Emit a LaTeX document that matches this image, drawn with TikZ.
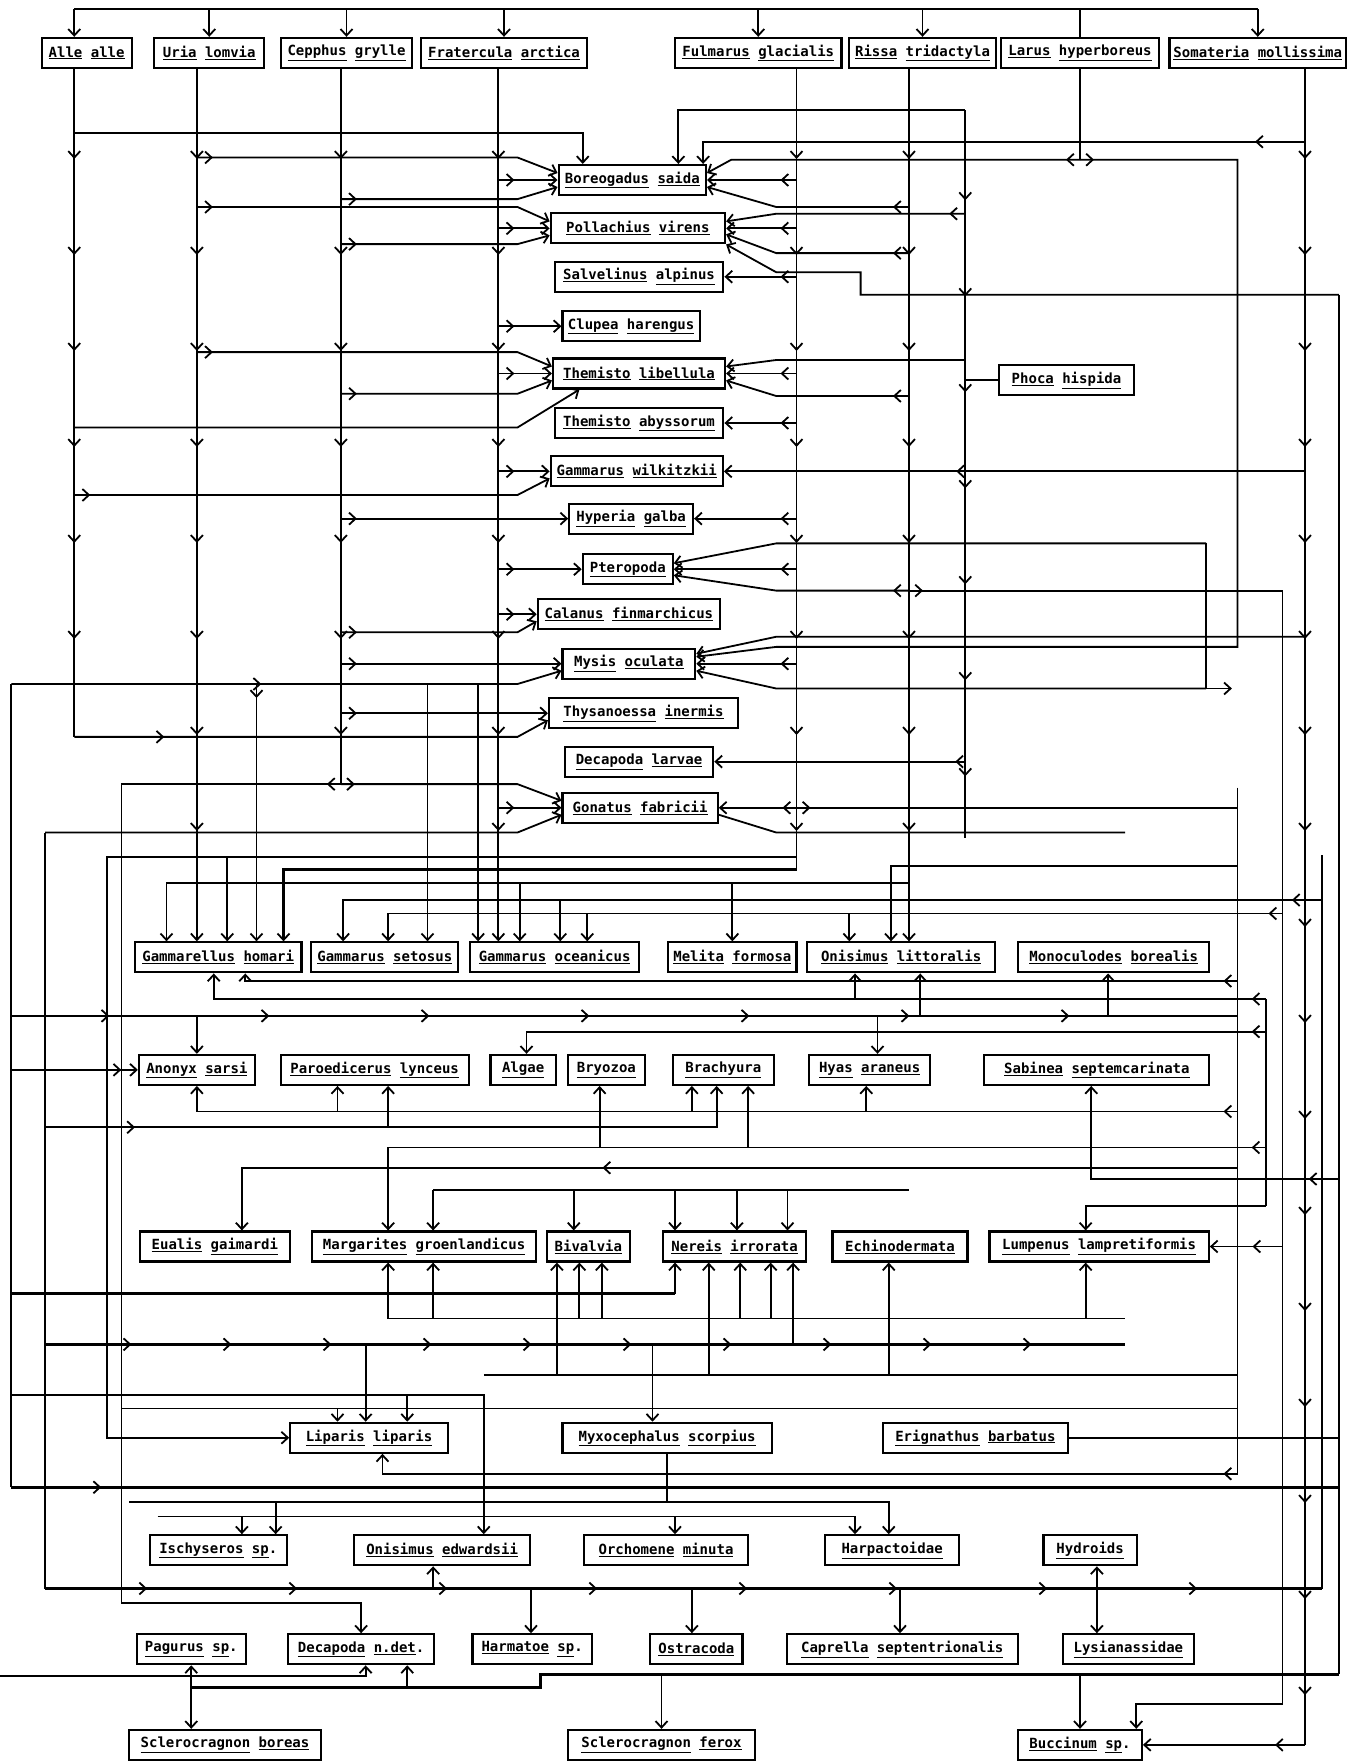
\documentclass[tikz,border=0pt]{standalone}
\usepackage{fontspec}
\newfontfamily\spfont{DejaVu Sans Mono}
\usetikzlibrary{arrows.meta,decorations.markings}
\newcommand{\ud}[1]{\underline{#1}}
\newcommand{\taxon}[5]{\node[sp,minimum width={#4*1.125pt}] (#1) at (#2,#3) {#5};}
\tikzset{
  >={Straight Barb[length=6.5pt,width=12pt,line width=1.8pt]},
  sp/.style={draw,line width=2.1pt,minimum height=30pt,inner sep=2pt,fill=white,
    font={\spfont\bfseries\fontsize{14pt}{16pt}\selectfont}},
  ln/.style={line width=1.8pt},
  hv/.style={line width=3pt},
  tipat/.style={postaction={decorate,decoration={markings,
    mark=at position #1 with {\arrow{>}}}}},
  br/.style={ln,->,tipat=16pt},
  trunk/.style={ln,postaction={decorate,decoration={markings,
    mark=between positions 90pt and -20pt step 96pt with {\arrow{>}}}}},
  ticks/.style={postaction={decorate,decoration={markings,
    mark=between positions 0.08 and 0.95 step #1 with {\arrow{>}}}}}
}
\begin{document}
\begin{tikzpicture}[x=1.125pt,y=-1.125pt]
\fill[white] (0,0) rectangle (1207,1568);
\useasboundingbox (0,0) rectangle (1207,1568);
\coordinate (xA) at (66,0);
\coordinate (xU) at (175,0);
\coordinate (xC) at (303,0);
\coordinate (xF) at (443,0);
\coordinate (xFu) at (708,0);
\coordinate (xR) at (808,0);
\coordinate (xV) at (858,0);
\coordinate (xS) at (1160,0);
\coordinate (m1) at (10,0);
\coordinate (m2) at (40,0);
\coordinate (m3) at (95,0);
\coordinate (m4) at (108,0);
\coordinate (r1) at (1072,0);
\coordinate (r2) at (1100,0);
\coordinate (r3) at (1125,0);
\coordinate (r4) at (1140,0);
\coordinate (r5) at (1175,0);
\coordinate (r6) at (1190,0);
% seabirds
\taxon{alle}{77}{47}{80}{\ud{Alle} \ud{alle}}
\taxon{uria}{186}{47}{98}{\ud{Uria} \ud{lomvia}}
\taxon{cepp}{308}{47}{117}{\ud{Cepphus} \ud{grylle}}
\taxon{frat}{448}{47}{147}{\ud{Fratercula} \ud{arctica}}
\taxon{fulm}{674}{47}{148}{\ud{Fulmarus} \ud{glacialis}}
\taxon{riss}{820}{47}{130}{\ud{Rissa} \ud{tridactyla}}
\taxon{laru}{960}{47}{140}{\ud{Larus} \ud{hyperboreus}}
\taxon{soma}{1118}{47}{157}{\ud{Somateria} \ud{mollissima}}
% pelagic column
\taxon{bore}{562}{160}{131}{\ud{Boreogadus} \ud{saida}}
\taxon{poll}{567}{203}{155}{\ud{Pollachius} \ud{virens}}
\taxon{salv}{568}{246}{150}{\ud{Salvelinus} \ud{alpinus}}
\taxon{clup}{561}{290}{122}{\ud{Clupea} \ud{harengus}}
\taxon{tlib}{568}{332}{153}{\ud{Themisto} \ud{libellula}}
\taxon{taby}{568}{376}{150}{\ud{Themisto} \ud{abyssorum}}
\taxon{gwil}{566}{419}{153}{\ud{Gammarus} \ud{wilkitzkii}}
\taxon{hyga}{561}{461}{110}{\ud{Hyperia} \ud{galba}}
\taxon{pter}{558}{506}{80}{\ud{Pteropoda}}
\taxon{cala}{559}{546}{162}{\ud{Calanus} \ud{finmarchicus}}
\taxon{mysi}{559}{590}{118}{\ud{Mysis} \ud{oculata}}
\taxon{thys}{572}{634}{168}{\ud{Thysanoessa} \ud{inermis}}
\taxon{dlar}{568}{677}{132}{\ud{Decapoda} \ud{larvae}}
\taxon{gona}{569}{718}{138}{\ud{Gonatus} \ud{fabricii}}
\taxon{phoc}{948}{338}{120}{\ud{Phoca} \ud{hispida}}
% benthic rows
\taxon{gham}{194}{851}{148}{\ud{Gammarellus} \ud{homari}}
\taxon{gset}{342}{851}{131}{\ud{Gammarus} \ud{setosus}}
\taxon{goce}{493}{851}{150}{\ud{Gammarus} \ud{oceanicus}}
\taxon{melf}{651}{851}{114}{\ud{Melita} \ud{formosa}}
\taxon{onli}{801}{851}{167}{\ud{Onisimus} \ud{littoralis}}
\taxon{monb}{990}{851}{170}{\ud{Monoculodes} \ud{borealis}}
\taxon{anon}{175}{951}{103}{\ud{Anonyx} \ud{sarsi}}
\taxon{paro}{333}{951}{167}{\ud{Paroedicerus} \ud{lynceus}}
\taxon{alga}{465}{951}{58}{\ud{Algae}}
\taxon{bryo}{539}{951}{69}{\ud{Bryozoa}}
\taxon{brac}{643}{951}{90}{\ud{Brachyura}}
\taxon{hyas}{773}{951}{108}{\ud{Hyas} \ud{araneus}}
\taxon{sabi}{975}{951}{200}{\ud{Sabinea} \ud{septemcarinata}}
\taxon{euag}{191}{1108}{133}{\ud{Eualis} \ud{gaimardi}}
\taxon{marg}{377}{1108}{199}{\ud{Margarites} \ud{groenlandicus}}
\taxon{biva}{523}{1108}{74}{\ud{Bivalvia}}
\taxon{nere}{653}{1108}{127}{\ud{Nereis} \ud{irrorata}}
\taxon{echi}{800}{1108}{120}{\ud{Echinodermata}}
\taxon{lump}{977}{1108}{195}{\ud{Lumpenus} \ud{lampretiformis}}
\taxon{lipa}{328}{1278}{140}{\ud{Liparis} \ud{liparis}}
\taxon{myxo}{593}{1278}{186}{\ud{Myxocephalus} \ud{scorpius}}
\taxon{erig}{867}{1278}{165}{\ud{Erignathus} \ud{barbatus}}
\taxon{isch}{194}{1378}{122}{\ud{Ischyseros} \ud{sp}.}
\taxon{oned}{393}{1378}{157}{\ud{Onisimus} \ud{edwardsii}}
\taxon{orch}{592}{1378}{146}{\ud{Orchomene} \ud{minuta}}
\taxon{harp}{793}{1378}{119}{\ud{Harpactoidae}}
\taxon{hydr}{969}{1378}{83}{\ud{Hydroids}}
\taxon{pagu}{170}{1466}{97}{\ud{Pagurus} \ud{sp}.}
\taxon{decn}{321}{1466}{130}{\ud{Decapoda} \ud{n.det}.}
\taxon{harm}{473}{1466}{106}{\ud{Harmatoe} \ud{sp}.}
\taxon{ostr}{619}{1466}{82}{\ud{Ostracoda}}
\taxon{capr}{802}{1466}{205}{\ud{Caprella} \ud{septentrionalis}}
\taxon{lysi}{1003}{1466}{117}{\ud{Lysianassidae}}
\taxon{sbor}{200}{1551}{170}{\ud{Sclerocragnon} \ud{boreas}}
\taxon{sfer}{588}{1551}{167}{\ud{Sclerocragnon} \ud{ferox}}
\taxon{bucc}{960}{1551}{110}{\ud{Buccinum} \ud{sp}.}
% birds and their trunks
\draw[ln] (xA |- 0,8) -- (soma.north |- 0,8);
\draw[ln,->] (xA |- 0,8) -- (xA |- alle.north);
\foreach \bird in {uria,cepp,frat,fulm,riss,soma}
  \draw[ln,->] (\bird.north |- 0,8) -- (\bird.north);
\draw[ln] (laru.north |- 0,8) -- (laru.north);
\draw[trunk] (xA |- alle.south) -- (xA |- 0,655);
\draw[ln,->,tipat=90pt] (xA |- 0,655) -- (460,655) -- ([yshift=-7pt]thys.west);
\draw[trunk,->] (xU |- uria.south) -- (xU |- gham.north);
\draw[trunk] (xC |- cepp.south) -- (xC |- 0,697);
\draw[trunk,->] (xF |- frat.south) -- (xF |- goce.north);
\draw[trunk] (xFu |- fulm.south) -- (xFu |- 0,773);
\draw[trunk,->] (xR |- riss.south) -- (xR |- onli.north);
\draw[trunk] (xV |- 0,98) -- (xV |- 0,745);
\draw[trunk] (xS |- soma.south) -- (xS |- bucc.east);
\draw[ln,->,tipat=30pt] (xS |- bucc.east) -- (bucc.east);
\draw[ln] (laru.south) -- (laru.south |- 0,142);
\draw[ln,->,tipat=14pt] (laru.south |- 0,142) -- (650,142) -- ([yshift=7pt]bore.east);
\draw[ln,->,tipat=14pt] (laru.south |- 0,142) -- (r2 |- 0,142) -- (r2 |- 0,575) -- (690,575) -- ([yshift=7pt]mysi.east);
% column, left inputs
\draw[ln,->] (xA |- 0,118) -- (518,118) -- (518,0 |- bore.north);
\draw[br] (xU |- 0,140) -- (460,140) -- ([yshift=7pt]bore.west);
\draw[br] (xF |- bore.west) -- (bore.west);
\draw[br] (xC |- 0,177) -- (460,177) -- ([yshift=-7pt]bore.west);
\draw[br] (xU |- 0,184) -- (460,184) -- ([yshift=7pt]poll.west);
\draw[br] (xF |- poll.west) -- (poll.west);
\draw[br] (xC |- 0,217) -- (460,217) -- ([yshift=-7pt]poll.west);
\draw[br] (xF |- clup.west) -- (clup.west);
\draw[br] (xU |- 0,313) -- (460,313) -- ([yshift=7pt]tlib.west);
\draw[br] (xF |- tlib.west) -- (tlib.west);
\draw[br] (xC |- 0,350) -- (460,350) -- ([yshift=-7pt]tlib.west);
\draw[ln,->] (xA |- 0,380) -- (460,380) -- (515,0 |- tlib.south);
\draw[br] (xF |- gwil.west) -- (gwil.west);
\draw[br] (xA |- 0,440) -- (460,440) -- ([yshift=-7pt]gwil.west);
\draw[br] (xC |- hyga.west) -- (hyga.west);
\draw[br] (xF |- pter.west) -- (pter.west);
\draw[br] (xF |- cala.west) -- (cala.west);
\draw[br] (xC |- 0,562) -- (460,562) -- ([yshift=-7pt]cala.west);
\draw[br] (xC |- mysi.west) -- (mysi.west);
\draw[ln,->,tipat=250pt] (m1 |- 0,608) -- (460,608) -- ([yshift=-7pt]mysi.west);
\draw[br] (xC |- thys.west) -- (thys.west);
\draw[ln,->,tipat=14pt] (xC |- 0,697) -- (460,697) -- ([yshift=7pt]gona.west);
\draw[ln,->,tipat=14pt] (xC |- 0,697) -- (m4 |- 0,697) -- (m4 |- 0,1425) -- (decn.north |- 0,1425) -- (decn.north);
\draw[br] (xF |- gona.west) -- (gona.west);
\draw[ln,->] (m2 |- 0,740) -- (460,740) -- ([yshift=-7pt]gona.west);
% column, right inputs
\draw[ln,->] (xV |- 0,98) -- (603,98) -- (603,0 |- bore.north);
\draw[ln,->,tipat=0.08] (xS |- 0,126) -- (625,126) -- (625,0 |- bore.north);
\draw[br] (xFu |- bore.east) -- (bore.east);
\draw[br] (xR |- 0,184) -- (690,184) -- ([yshift=-7pt]bore.east);
\draw[br] (xFu |- poll.east) -- (poll.east);
\draw[br] (xV |- 0,190) -- (690,190) -- ([yshift=7pt]poll.east);
\draw[br] (xR |- 0,225) -- (690,225) -- ([yshift=-6pt]poll.east);
\draw[ln,->] (r6 |- 0,262) -- (765,262) -- (765,242) -- (690,242) -- (poll.south east);
\draw[br] (xFu |- salv.east) -- (salv.east);
\draw[br] (xFu |- tlib.east) -- (tlib.east);
\draw[ln,->] (xV |- 0,320) -- (690,320) -- ([yshift=7pt]tlib.east);
\draw[br] (xR |- 0,352) -- (690,352) -- ([yshift=-7pt]tlib.east);
\draw[ln] (xV |- phoc.west) -- (phoc.west);
\draw[br] (xFu |- taby.east) -- (taby.east);
\draw[ln,->,tipat=0.6] (xS |- gwil.east) -- (gwil.east);
\draw[br] (xFu |- hyga.east) -- (hyga.east);
\draw[br] (xFu |- pter.east) -- (pter.east);
\draw[ln,->] (r1 |- 0,483) -- (690,483) -- ([yshift=6pt]pter.east);
\draw[ln] (r1 |- 0,483) -- (r1 |- 0,612);
\draw[br] (xR |- 0,525) -- (690,525) -- ([yshift=-6pt]pter.east);
\draw[ln,->,tipat=14pt] (xR |- 0,525) -- (r4 |- 0,525) -- (r4 |- 0,1515) -- (1010,1515) -- (1010,0 |- bucc.north);
\draw[br] (xFu |- mysi.east) -- (mysi.east);
\draw[ln,->] (xS |- 0,566) -- (690,566) -- ([yshift=10pt]mysi.east);
\draw[ln,->] (r1 |- 0,612) -- (690,612) -- ([yshift=-7pt]mysi.east);
\draw[ln,->] (r1 |- 0,612) -- (1095,612);
\draw[ln,->,tipat=10pt] (xV |- dlar.east) -- (dlar.east);
\draw[ln,->,tipat=14pt] (xFu |- gona.east) -- (gona.east);
\draw[ln,tipat=14pt] (xFu |- gona.east) -- (r2 |- gona.east);
\draw[ln] ([yshift=-7pt]gona.east) -- (690,740) -- (1000,740);
% feet of the column
\draw[hv,->] (xFu |- 0,773) -- (252,773) -- (252,0 |- gham.north);
\draw[ln,->] (xFu |- 0,762) -- (m3 |- 0,762) -- (m3 |- lipa.west) -- (lipa.west);
\draw[ln,->,tipat=14pt] (228,608) -- (228,0 |- gham.north);
\draw[ln,->] (380,608) -- (380,0 |- gset.north);
\draw[ln,->] (425,608) -- (425,0 |- goce.north);
\draw[ln,->] (xR |- 0,785) -- (148,785) -- (148,0 |- gham.north);
\draw[ln,->] (462,785) -- (462,0 |- goce.north);
\draw[ln,->] (melf.north |- 0,785) -- (melf.north);
\draw[ln,->] (202,762) -- (202,0 |- gham.north);
\draw[ln,->,tipat=30pt] (r5 |- 0,800) -- (305,800) -- (305,0 |- gset.north);
\draw[ln,->] (498,800) -- (498,0 |- goce.north);
\draw[ln,->,tipat=14pt] (r4 |- 0,812) -- (345,812) -- (345,0 |- gset.north);
\draw[ln,->] (522,812) -- (522,0 |- goce.north);
\draw[ln,->] (755,812) -- (755,0 |- onli.north);
\draw[ln,->] (r2 |- 0,770) -- (792,770) -- (792,0 |- onli.north);
% between the first benthic rows
\draw[ln,->,tipat=14pt] (r2 |- 0,872) -- (218,872) -- (218,0 |- gham.south);
\draw[ln,->,tipat=14pt] (r3 |- 0,888) -- (190,888) -- (190,0 |- gham.south);
\draw[ln,->] (760,888) -- (760,0 |- onli.south);
\draw[ln,ticks=160pt] (m1 |- 0,903) -- (r2 |- 0,903);
\draw[ln,->] (175,903) -- (175,0 |- anon.north);
\draw[ln,->] (818,903) -- (818,0 |- onli.south);
\draw[ln,->] (985,903) -- (985,0 |- monb.south);
\draw[ln,->] (780,903) -- (780,0 |- hyas.north);
\draw[ln,->,tipat=14pt] (r3 |- 0,917) -- (468,917) -- (468,0 |- alga.north);
\draw[ln,->,tipat=110pt] (m1 |- anon.west) -- (anon.west);
\draw[ln,->,tipat=14pt] (r2 |- 0,988) -- (175,988) -- (175,0 |- anon.south);
\draw[ln,->] (300,988) -- (300,0 |- paro.south);
\draw[ln,->] (615,988) -- (615,0 |- brac.south);
\draw[ln,->] (770,988) -- (770,0 |- hyas.south);
\draw[ln,->,tipat=90pt] (m2 |- 0,1002) -- (637,1002) -- (637,0 |- brac.south);
\draw[ln,->] (345,1002) -- (345,0 |- paro.south);
\draw[ln,->,tipat=14pt] (r3 |- 0,1020) -- (345,1020) -- (345,0 |- marg.north);
\draw[ln,->] (533,1020) -- (533,0 |- bryo.south);
\draw[ln,->] (665,1020) -- (665,0 |- brac.south);
\draw[ln,->,tipat=30pt] (r6 |- 0,1048) -- (970,1048) -- (970,0 |- sabi.south);
\draw[ln,->,tipat=0.6] (r2 |- 0,1038) -- (215,1038) -- (215,0 |- euag.north);
\draw[ln] (385,1058) -- (xR |- 0,1058);
\foreach \xx/\nd in {385/marg,510/biva,600/nere,655/nere,700/nere}
  \draw[ln,->] (\xx,1058) -- (\xx,0 |- \nd.north);
\draw[ln,->] (r3 |- 0,1072) -- (965,1072) -- (965,0 |- lump.north);
% under the third row
\draw[hv] (m1 |- 0,1150) -- (600,1150);
\draw[ln,->] (600,1150) -- (600,0 |- nere.south);
\draw[ln] (345,1172) -- (1000,1172);
\foreach \xx/\nd in {345/marg,385/marg,515/biva,535/biva,658/nere,685/nere,965/lump}
  \draw[ln,->] (\xx,1172) -- (\xx,0 |- \nd.south);
\draw[ln] (430,1222) -- (r2 |- 0,1222);
\foreach \xx/\nd in {495/biva,630/nere,790/echi}
  \draw[ln,->] (\xx,1222) -- (\xx,0 |- \nd.south);
\draw[hv,ticks=100pt] (m2 |- 0,1195) -- (1000,1195);
\draw[ln,->] (325,1195) -- (325,0 |- lipa.north);
\draw[ln,->] (580,1195) -- (580,0 |- myxo.north);
\draw[ln,->] (705,1195) -- (705,0 |- nere.south);
\draw[ln,->] (m1 |- 0,1240) -- (430,1240) -- (430,0 |- oned.north);
\draw[ln,->] (362,1240) -- (362,0 |- lipa.north);
\draw[ln] (m4 |- 0,1252) -- (r2 |- 0,1252);
\draw[ln,->] (300,1252) -- (300,0 |- lipa.north);
\draw[ln,->,tipat=30pt] (r4 |- lump.east) -- (lump.east);
\draw[ln] (erig.east) -- (r6 |- erig.east);
% lower rows
\draw[ln,->,tipat=14pt] (r2 |- 0,1310) -- (340,1310) -- (340,0 |- lipa.south);
\draw[hv,tipat=90pt] (m1 |- 0,1322) -- (r6 |- 0,1322);
\draw[ln] (myxo.south) -- (myxo.south |- 0,1335);
\draw[ln,->] (115,1335) -- (790,1335) -- (790,0 |- harp.north);
\draw[ln,->] (245,1335) -- (245,0 |- isch.north);
\draw[ln,->] (140,1348) -- (760,1348) -- (760,0 |- harp.north);
\foreach \xx/\nd in {215/isch,600/orch}
  \draw[ln,->] (\xx,1348) -- (\xx,0 |- \nd.north);
\draw[hv,ticks=150pt] (m2 |- 0,1412) -- (r5 |- 0,1412);
\draw[ln,->] (385,1412) -- (385,0 |- oned.south);
\foreach \xx/\nd in {472/harm,615/ostr,800/capr,975/lysi}
  \draw[ln,->] (\xx,1412) -- (\xx,0 |- \nd.north);
\draw[ln,->] (975,1412) -- (975,0 |- hydr.south);
\draw[ln,->] (0,1490) -- (325,1490) -- (325,0 |- decn.south);
\draw[ln,<->] (pagu.south) -- (pagu.south |- sbor.north);
\draw[hv] (pagu.south |- 0,1500) -- (480,1500) -- (480,1488) -- (r6 |- 0,1488);
\draw[ln,->] (362,1500) -- (362,0 |- decn.south);
\draw[ln,->] (sfer.north |- 0,1488) -- (sfer.north);
\draw[ln,->] (960,1488) -- (960,0 |- bucc.north);
% margins
\draw[ln] (m1 |- 0,608) -- (m1 |- 0,1322);
\draw[ln] (m2 |- 0,740) -- (m2 |- 0,1412);
\draw[ln] (r2 |- 0,700) -- (r2 |- 0,1310);
\draw[ln] (r3 |- 0,888) -- (r3 |- 0,1072);
\draw[ln] (r5 |- 0,760) -- (r5 |- 0,1412);
\draw[ln] (r6 |- 0,262) -- (r6 |- 0,1488);
\end{tikzpicture}
\end{document}
